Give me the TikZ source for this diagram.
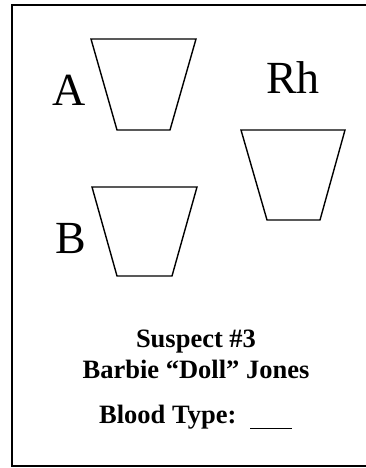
\documentclass[tikz,border=0pt]{standalone}
\usepackage{fontspec}
\setmainfont{Liberation Serif}
\begin{document}
\begin{tikzpicture}[x=1pt,y=-1pt,
  cup/.style={line width=1.4pt, line join=miter},
  biglabel/.style={inner sep=0pt, anchor=base west, font=\fontsize{46}{46}\selectfont},
  infotext/.style={inner sep=0pt, anchor=base, font=\fontsize{26.5}{27}\selectfont\bfseries}]
\useasboundingbox (0,0) rectangle (366,468);
\fill[white] (0,0) rectangle (366,468);
% frame
\draw[line width=1.4pt] (380,5) -- (12,5) -- (12,466) -- (380,466);
% cups
\draw[cup] (91,39) -- (196,39) -- (170,130) -- (117,130) -- cycle;
\draw[cup] (92,187) -- (197,187) -- (172,276) -- (117,276) -- cycle;
\draw[cup] (241,130) -- (345,130) -- (320,220) -- (267,220) -- cycle;
% labels
\node[biglabel] (la) at (52,106) {A};
\node[biglabel] (lb) at (55,253) {B};
\node[biglabel] (lrh) at (266,94) {Rh};
% info
\node[infotext] (t1) at (196,347) {Suspect \#3};
\node[infotext] (t2) at (196,378) {Barbie “Doll” Jones};
\node[infotext, anchor=base west] (t3) at (99,423) {Blood Type:};
\coordinate (u1) at (250,428);
\coordinate (u2) at (292,428);
\draw[line width=1pt] (u1) -- (u2);
\end{tikzpicture}
\end{document}
